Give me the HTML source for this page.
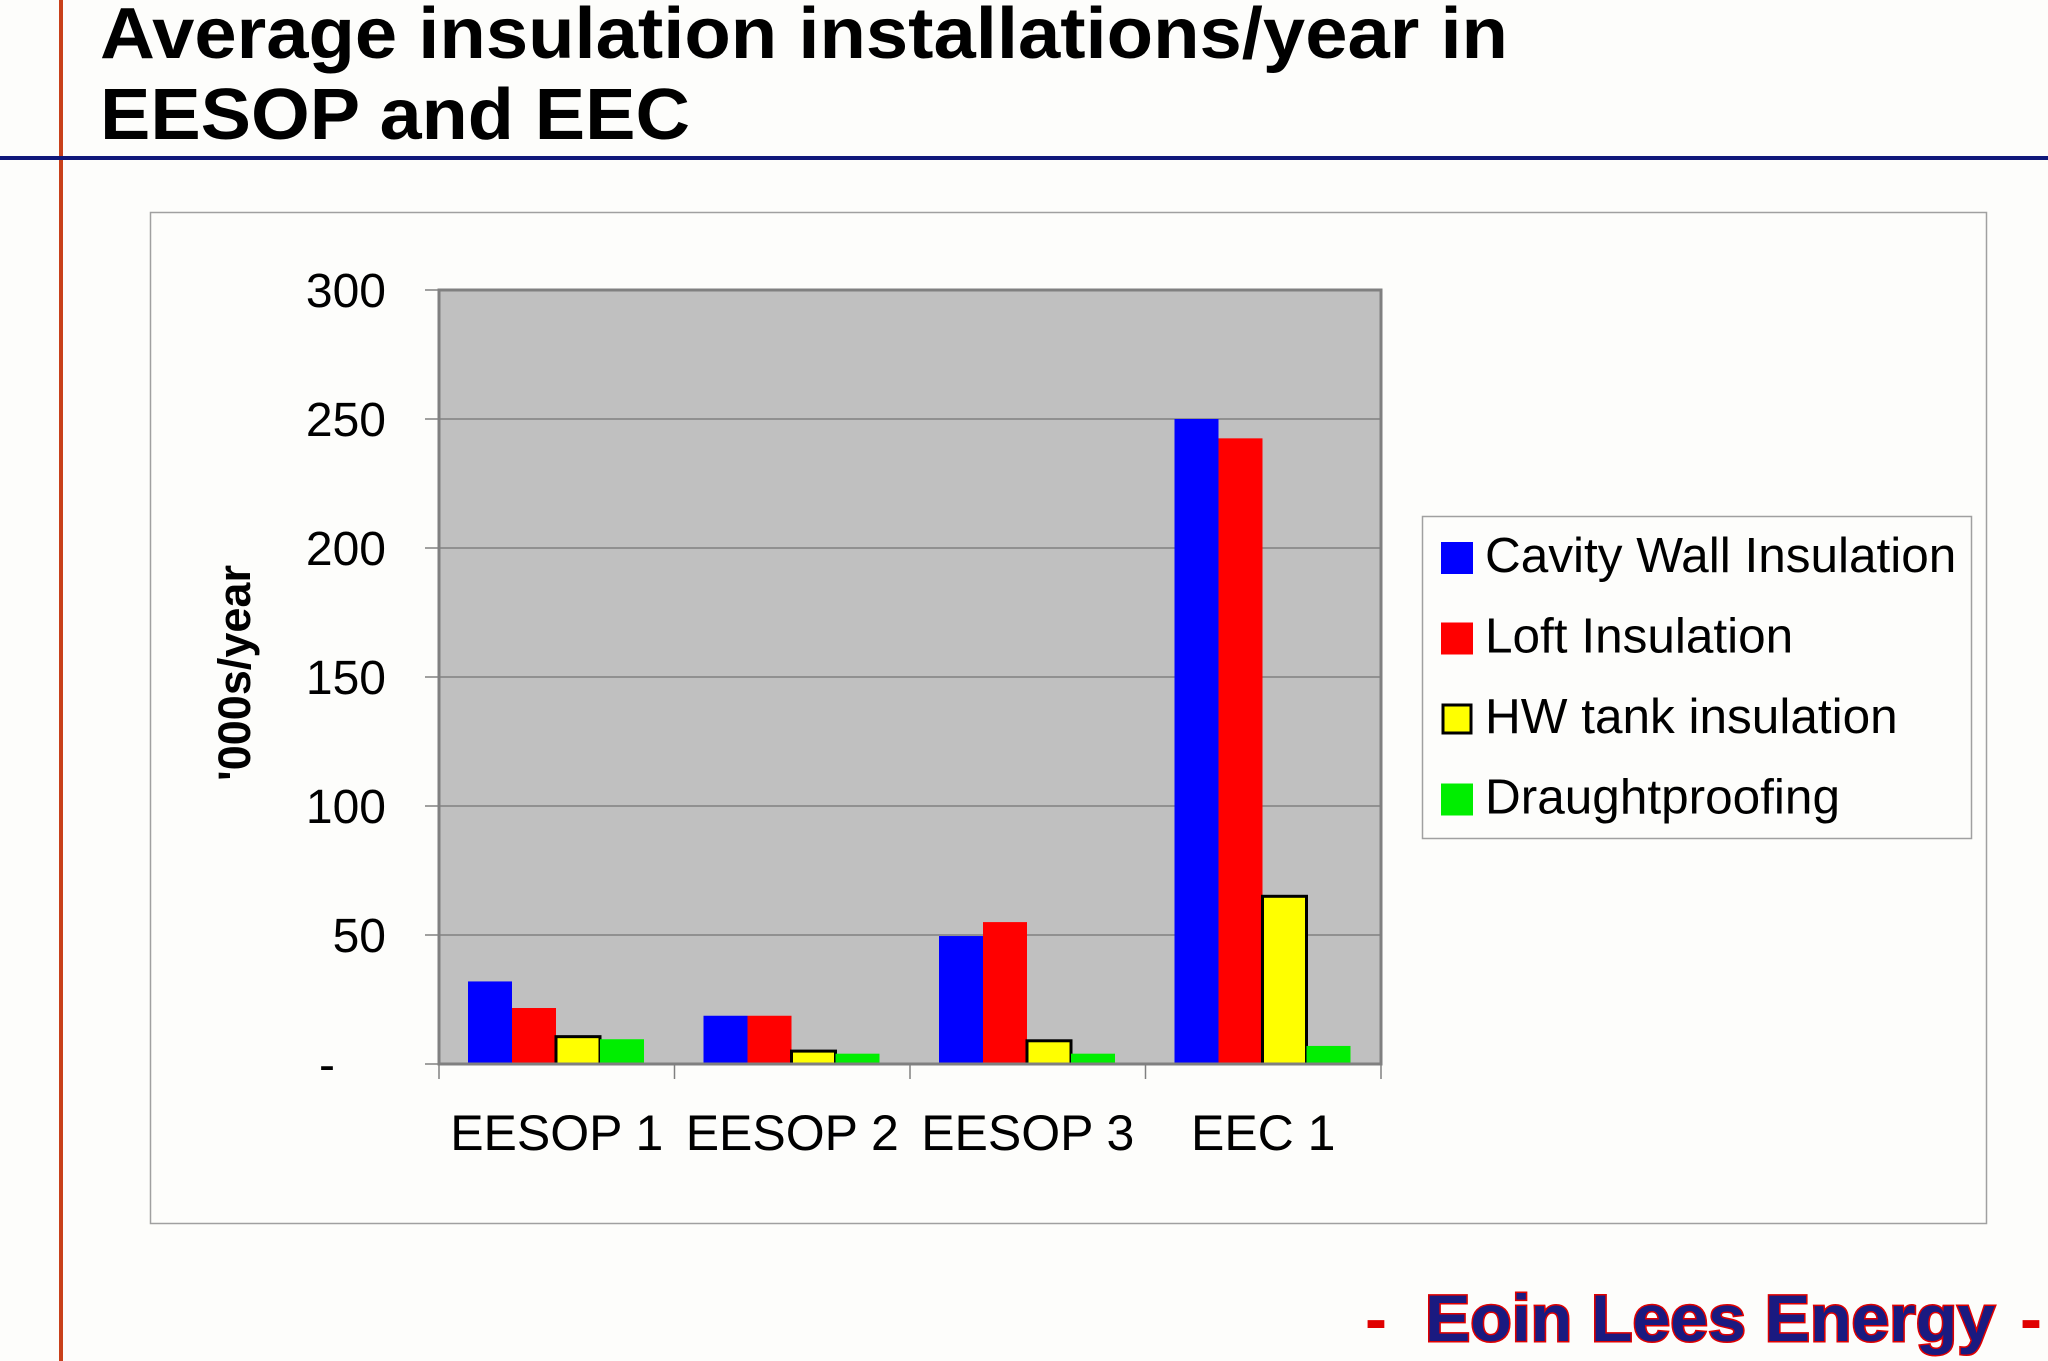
<!DOCTYPE html>
<html><head><meta charset="utf-8"><style>
html,body{margin:0;padding:0;background:#fdfdfb;}
svg{display:block;font-family:"Liberation Sans",Arial,sans-serif;}
</style></head><body>
<svg id="chart" width="2048" height="1361" viewBox="0 0 2048 1361">
<rect x="0" y="0" width="2048" height="1361" fill="#fdfdfb"/>
<rect x="59" y="0" width="4" height="1361" fill="#c8401a"/>
<rect x="0" y="156" width="2048" height="4" fill="#10187a"/>
<text x="100" y="58" font-size="72" font-weight="bold" fill="#000" textLength="1408" lengthAdjust="spacingAndGlyphs">Average insulation installations/year in</text>
<text x="100" y="139" font-size="72" font-weight="bold" fill="#000" textLength="590" lengthAdjust="spacingAndGlyphs">EESOP and EEC</text>
<rect x="150.5" y="212.5" width="1836" height="1011" fill="#fdfdfb" stroke="#a0a0a0" stroke-width="1.5"/>
<rect x="439" y="290" width="942" height="774" fill="#c0c0c0"/>
<g id="grid"></g>
<g id="bars"></g>
<rect x="439" y="290" width="942" height="774" fill="none" stroke="#808080" stroke-width="3"/>
<g id="axes"></g>
<text transform="translate(250,673) rotate(-90)" text-anchor="middle" font-size="45" font-weight="bold" fill="#000">'000s/year</text>
<g>
<rect x="1422.5" y="516.5" width="549" height="322" fill="#fdfdfb" stroke="#a0a0a0" stroke-width="1.5"/>
<g id="legend"></g>
</g>
<text x="1365" y="1341" font-size="66" font-weight="bold" fill="#e00000">-</text>
<text x="1425" y="1341" font-size="66" font-weight="bold" fill="#1a1a80" stroke="#e00000" stroke-width="3" paint-order="stroke" textLength="570" lengthAdjust="spacingAndGlyphs">Eoin Lees Energy</text>
<text x="2020" y="1341" font-size="66" font-weight="bold" fill="#e00000">-</text>
</svg>
<script>
const categories = ["EESOP 1","EESOP 2","EESOP 3","EEC 1"];
const seriesNames = ["Cavity Wall Insulation","Loft Insulation","HW tank insulation","Draughtproofing"];
const cavityWall = [32, 18.7, 49.6, 250];
const loft = [21.7, 18.7, 55, 242.5];
const hwTank = [10.6, 5, 9, 65];
const draught = [9.6, 4, 4, 7];
const yTicks = [0, 50, 100, 150, 200, 250, 300];
const yTickLabels = ["-", "50", "100", "150", "200", "250", "300"];

const NS = "http://www.w3.org/2000/svg";
const X0 = 439, X1 = 1381, Y0 = 1064, Y1 = 290, YMAX = 300;
const colors = ["#0000ff","#ff0000","#ffff00","#00ee00"];
const series = [cavityWall, loft, hwTank, draught];
const groupW = (X1 - X0) / categories.length;
const barW = 44;
function yScale(v){ return Y0 - (v / YMAX) * (Y0 - Y1); }
function xGroup(i){ return X0 + i * groupW; }
function mk(tag, attrs){ const e = document.createElementNS(NS, tag); for (const k in attrs) e.setAttribute(k, attrs[k]); return e; }

const grid = document.getElementById("grid");
const axes = document.getElementById("axes");
yTicks.forEach((t, i) => {
  const y = yScale(t);
  if (t > 0 && t < YMAX) {
    const g = mk("line", {x1: X0, x2: X1, y1: y, y2: y, stroke: "#808080", "stroke-width": 1.5});
    
    
    grid.appendChild(g);
  }
  const tk = mk("line", {x1: X0 - 14, x2: X0, y1: y, y2: y, stroke: "#808080", "stroke-width": 1.5});
  
  
  axes.appendChild(tk);
  const isDash = yTickLabels[i] === "-";
  const lb = mk("text", {x: isDash ? 327 : 386, y: y + 17, "text-anchor": isDash ? "middle" : "end", "font-size": 48, fill: "#000"});
  lb.textContent = yTickLabels[i];
  
  
  axes.appendChild(lb);
});
for (let i = 0; i <= categories.length; i++) {
  const x = xGroup(i);
  const tk = mk("line", {x1: x, x2: x, y1: Y0, y2: Y0 + 15, stroke: "#808080", "stroke-width": 1.5});
  
  
  axes.appendChild(tk);
}
categories.forEach((c, i) => {
  const lb = mk("text", {x: xGroup(i) + groupW / 2, y: 1150, "text-anchor": "middle", "font-size": 50, fill: "#000"});
  lb.textContent = c;
  
  
  axes.appendChild(lb);
});

const bars = document.getElementById("bars");
categories.forEach((c, i) => {
  series.forEach((s, j) => {
    const x = xGroup(i) + 29 + j * barW;
    const y = yScale(s[i]);
    const attrs = {x: x, y: y, width: barW, height: Y0 - y, fill: colors[j]};
    if (j === 2) { attrs.stroke = "#000"; attrs["stroke-width"] = 3; }
    const r = mk("rect", attrs);
    
    
    bars.appendChild(r);
  });
});

const legend = document.getElementById("legend");
seriesNames.forEach((n, j) => {
  const cy = 556 + j * 80.5;
  const a = {x: 1441, y: cy - 14, width: 32, height: 32, fill: colors[j]};
  if (j === 2) { a.x = 1443; a.y = cy - 12; a.width = 28; a.height = 28; a.stroke = "#000"; a["stroke-width"] = 3; }
  const sw = mk("rect", a);
  
  
  legend.appendChild(sw);
  const t = mk("text", {x: 1485, y: cy + 16, "font-size": 49.5, fill: "#000"});
  t.textContent = n;
  
  
  legend.appendChild(t);
});
</script>
</body></html>
